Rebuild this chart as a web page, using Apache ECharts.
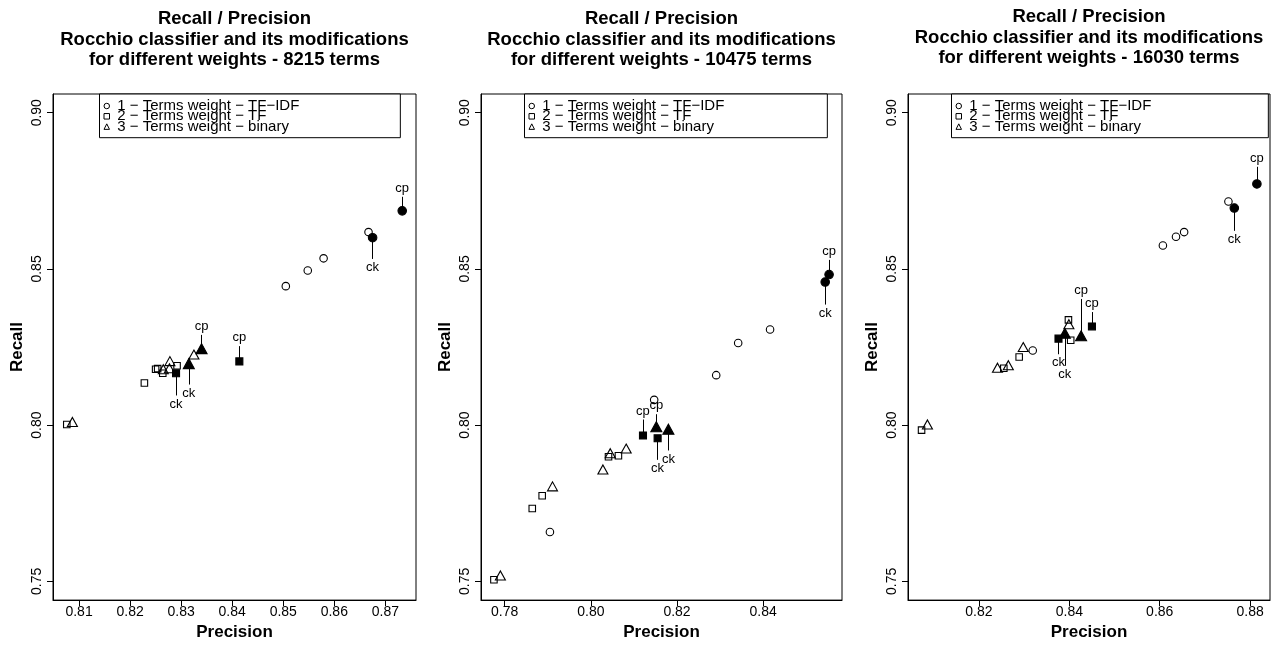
<!DOCTYPE html>
<html>
<head>
<meta charset="utf-8">
<title>Recall / Precision - Rocchio classifier</title>
<script src="https://cdn.jsdelivr.net/npm/echarts@6/dist/echarts.min.js"></script>
<style>
  html, body { margin: 0; padding: 0; background: #fff; }
  #chart { width: 1276px; height: 646px; }
</style>
</head>
<body>
<div id="chart"></div>
<script>
const seriesNames = ["1 − Terms weight − TF−IDF", "2 − Terms weight − TF", "3 − Terms weight − binary"];
const termCounts = [8215, 10475, 16030];

const recallTicks = [0.75, 0.8, 0.85, 0.9];
const precisionTicks8215 = [0.81, 0.82, 0.83, 0.84, 0.85, 0.86, 0.87];
const precisionTicks10475 = [0.78, 0.8, 0.82, 0.84];
const precisionTicks16030 = [0.82, 0.84, 0.86, 0.88];

const recallRange = [0.744, 0.906];
const precisionRange8215 = [0.8049, 0.876];
const precisionRange10475 = [0.7745, 0.8583];
const precisionRange16030 = [0.8043, 0.8844];

// plain points: [precision, recall]
// marked points: [precision, recall, recall where the pointer ends, tag]
const tfidf8215 = [[0.8667, 0.8618], [0.8579, 0.8534], [0.8548, 0.8495], [0.8505, 0.8445]];
const tfidfMarked8215 = [[0.8675, 0.86, 0.8532, "ck"], [0.8733, 0.8686, 0.8731, "cp"]];
const tf8215 = [[0.825, 0.8179], [0.8254, 0.8181], [0.8264, 0.8166], [0.8292, 0.819], [0.8228, 0.8135], [0.8076, 0.8002]];
const tfMarked8215 = [[0.829, 0.8166, 0.8095, "ck"], [0.8414, 0.8204, 0.8253, "cp"]];
const binary8215 = [[0.8265, 0.8179], [0.8278, 0.8205], [0.8277, 0.8182], [0.8325, 0.8226], [0.8087, 0.801]];
const binaryMarked8215 = [[0.8315, 0.8197, 0.813, "ck"], [0.834, 0.8245, 0.8289, "cp"]];

const tfidf10475 = [[0.8416, 0.8306], [0.8342, 0.8263], [0.8291, 0.816], [0.8147, 0.8081], [0.7905, 0.7658]];
const tfidfMarked10475 = [[0.8544, 0.8458, 0.8386, "ck"], [0.8553, 0.8482, 0.8529, "cp"]];
const tf10475 = [[0.8064, 0.7902], [0.8041, 0.7899], [0.7887, 0.7774], [0.7864, 0.7733], [0.7775, 0.7505]];
const tfMarked10475 = [[0.8155, 0.7958, 0.7889, "ck"], [0.8121, 0.7967, 0.8018, "cp"]];
const binary10475 = [[0.8082, 0.7925], [0.8045, 0.791], [0.8028, 0.7858], [0.7911, 0.7804], [0.779, 0.7519]];
const binaryMarked10475 = [[0.818, 0.7987, 0.7919, "ck"], [0.8152, 0.7995, 0.8035, "cp"]];

const tfidf16030 = [[0.8752, 0.8716], [0.8607, 0.8575], [0.8636, 0.8603], [0.8654, 0.8618], [0.8319, 0.8239]];
const tfidfMarked16030 = [[0.8765, 0.8695, 0.8622, "ck"], [0.8815, 0.8772, 0.8827, "cp"]];
const tf16030 = [[0.8398, 0.8337], [0.8403, 0.8272], [0.8289, 0.8218], [0.8255, 0.8182], [0.8073, 0.7984]];
const tfMarked16030 = [[0.8376, 0.8277, 0.8227, "ck"], [0.845, 0.8316, 0.8362, "cp"]];
const binary16030 = [[0.8399, 0.8323], [0.8298, 0.825], [0.8241, 0.8184], [0.8265, 0.8192], [0.8086, 0.8002]];
const binaryMarked16030 = [[0.839, 0.8294, 0.819, "ck"], [0.8426, 0.8286, 0.8404, "cp"]];

const font = "'Liberation Sans', Arial, Helvetica, sans-serif";

const panels = [
  { left: 53, width: 363, legendLeft: 99.5, legendRight: 101, titleTop: 9,
    ticks: precisionTicks8215, range: precisionRange8215,
    sets: [[tfidf8215, tfidfMarked8215], [tf8215, tfMarked8215], [binary8215, binaryMarked8215]] },
  { left: 481, width: 361, legendLeft: 524.5, legendRight: 103, titleTop: 9,
    ticks: precisionTicks10475, range: precisionRange10475,
    sets: [[tfidf10475, tfidfMarked10475], [tf10475, tfMarked10475], [binary10475, binaryMarked10475]] },
  { left: 908, width: 362, legendLeft: 951.5, legendRight: 117, titleTop: 7,
    ticks: precisionTicks16030, range: precisionRange16030,
    sets: [[tfidf16030, tfidfMarked16030], [tf16030, tfMarked16030], [binary16030, binaryMarked16030]] }
];

const symbols = ["circle", "rect", "triangle"];
const openSizes = [7.5, 6.5, [10, 9]];
const filledSizes = [8.5, 7, [11, 10]];

const fmt = v => v.toFixed(2);

const chart = echarts.init(document.getElementById("chart"));

const grid = [], xAxis = [], yAxis = [], title = [], legend = [], series = [];

panels.forEach((p, i) => {
  grid.push({
    left: p.left, width: p.width, top: 94, bottom: 41,
    show: true, borderColor: "#000", borderWidth: 1, backgroundColor: "transparent"
  });
  xAxis.push({
    gridIndex: i, type: "value", min: p.range[0], max: p.range[1],
    name: "Precision", nameLocation: "middle", nameGap: 23,
    nameTextStyle: { fontFamily: font, fontSize: 17, fontWeight: "bold", color: "#000" },
    axisLine: { show: true, lineStyle: { color: "#000", width: 1 } },
    axisTick: { show: true, length: 6, customValues: p.ticks, lineStyle: { color: "#000" } },
    axisLabel: { customValues: p.ticks, formatter: fmt, margin: 5, fontFamily: font, fontSize: 14, color: "#000" },
    splitLine: { show: false }
  });
  yAxis.push({
    gridIndex: i, type: "value", min: recallRange[0], max: recallRange[1],
    name: "Recall", nameLocation: "middle", nameGap: 27,
    nameTextStyle: { fontFamily: font, fontSize: 17, fontWeight: "bold", color: "#000" },
    axisLine: { show: true, lineStyle: { color: "#000", width: 1 } },
    axisTick: { show: true, length: 6, customValues: recallTicks, lineStyle: { color: "#000" } },
    axisLabel: { customValues: recallTicks, formatter: fmt, rotate: 90, margin: 9, fontFamily: font, fontSize: 14, color: "#000" },
    splitLine: { show: false }
  });
  title.push({
    text: "Recall / Precision\nRocchio classifier and its modifications\nfor different weights - " + termCounts[i] + " terms",
    left: p.left + p.width / 2, textAlign: "center", top: p.titleTop, padding: 0,
    textStyle: { fontFamily: font, fontSize: 18.5, fontWeight: "bold", color: "#000", lineHeight: 20.5 }
  });
  legend.push({
    left: p.legendLeft, top: 94, orient: "vertical", selectedMode: false,
    padding: [4.5, p.legendRight, 3.6, 4], itemGap: -4.7,
    itemWidth: 5.5, itemHeight: 5.5,
    borderColor: "#000", borderWidth: 1, backgroundColor: "#fff",
    itemStyle: { color: "rgba(0,0,0,0)", borderColor: "#000", borderWidth: 1, opacity: 1 },
    textStyle: { fontFamily: font, fontSize: 15, color: "#000", padding: [0, 0, 0, 2.7] },
    data: seriesNames.map((n, k) => ({ name: n, icon: symbols[k] }))
  });
  p.sets.forEach((set, k) => {
    const open = set[0], marked = set[1];
    series.push({
      name: seriesNames[k], type: "scatter", xAxisIndex: i, yAxisIndex: i,
      symbol: symbols[k], symbolSize: openSizes[k],
      itemStyle: { color: "rgba(0,0,0,0)", borderColor: "#000", borderWidth: 1.1, opacity: 1 },
      emphasis: { disabled: true },
      data: open.map(d => [d[0], d[1]]).concat(marked.map(m => ({
        value: [m[0], m[1]], symbolSize: filledSizes[k],
        itemStyle: { color: "#000", borderColor: "#000", opacity: 1 }
      }))),
      markLine: {
        silent: true, animation: false, symbol: ["none", "none"],
        lineStyle: { color: "#000", width: 1, type: "solid", opacity: 1 },
        label: { show: true, position: "end", distance: 2, formatter: q => q.name,
                 fontFamily: font, fontSize: 13, color: "#000" },
        emphasis: { disabled: true },
        data: marked.map(m => [
          { name: m[3], coord: [m[0], m[1]] },
          { name: m[3], coord: [m[0], m[2]] }
        ])
      }
    });
  });
});

chart.setOption({
  animation: false,
  backgroundColor: "#fff",
  textStyle: { fontFamily: font },
  tooltip: { show: false },
  grid, xAxis, yAxis, title, legend, series
});
</script>
</body>
</html>
